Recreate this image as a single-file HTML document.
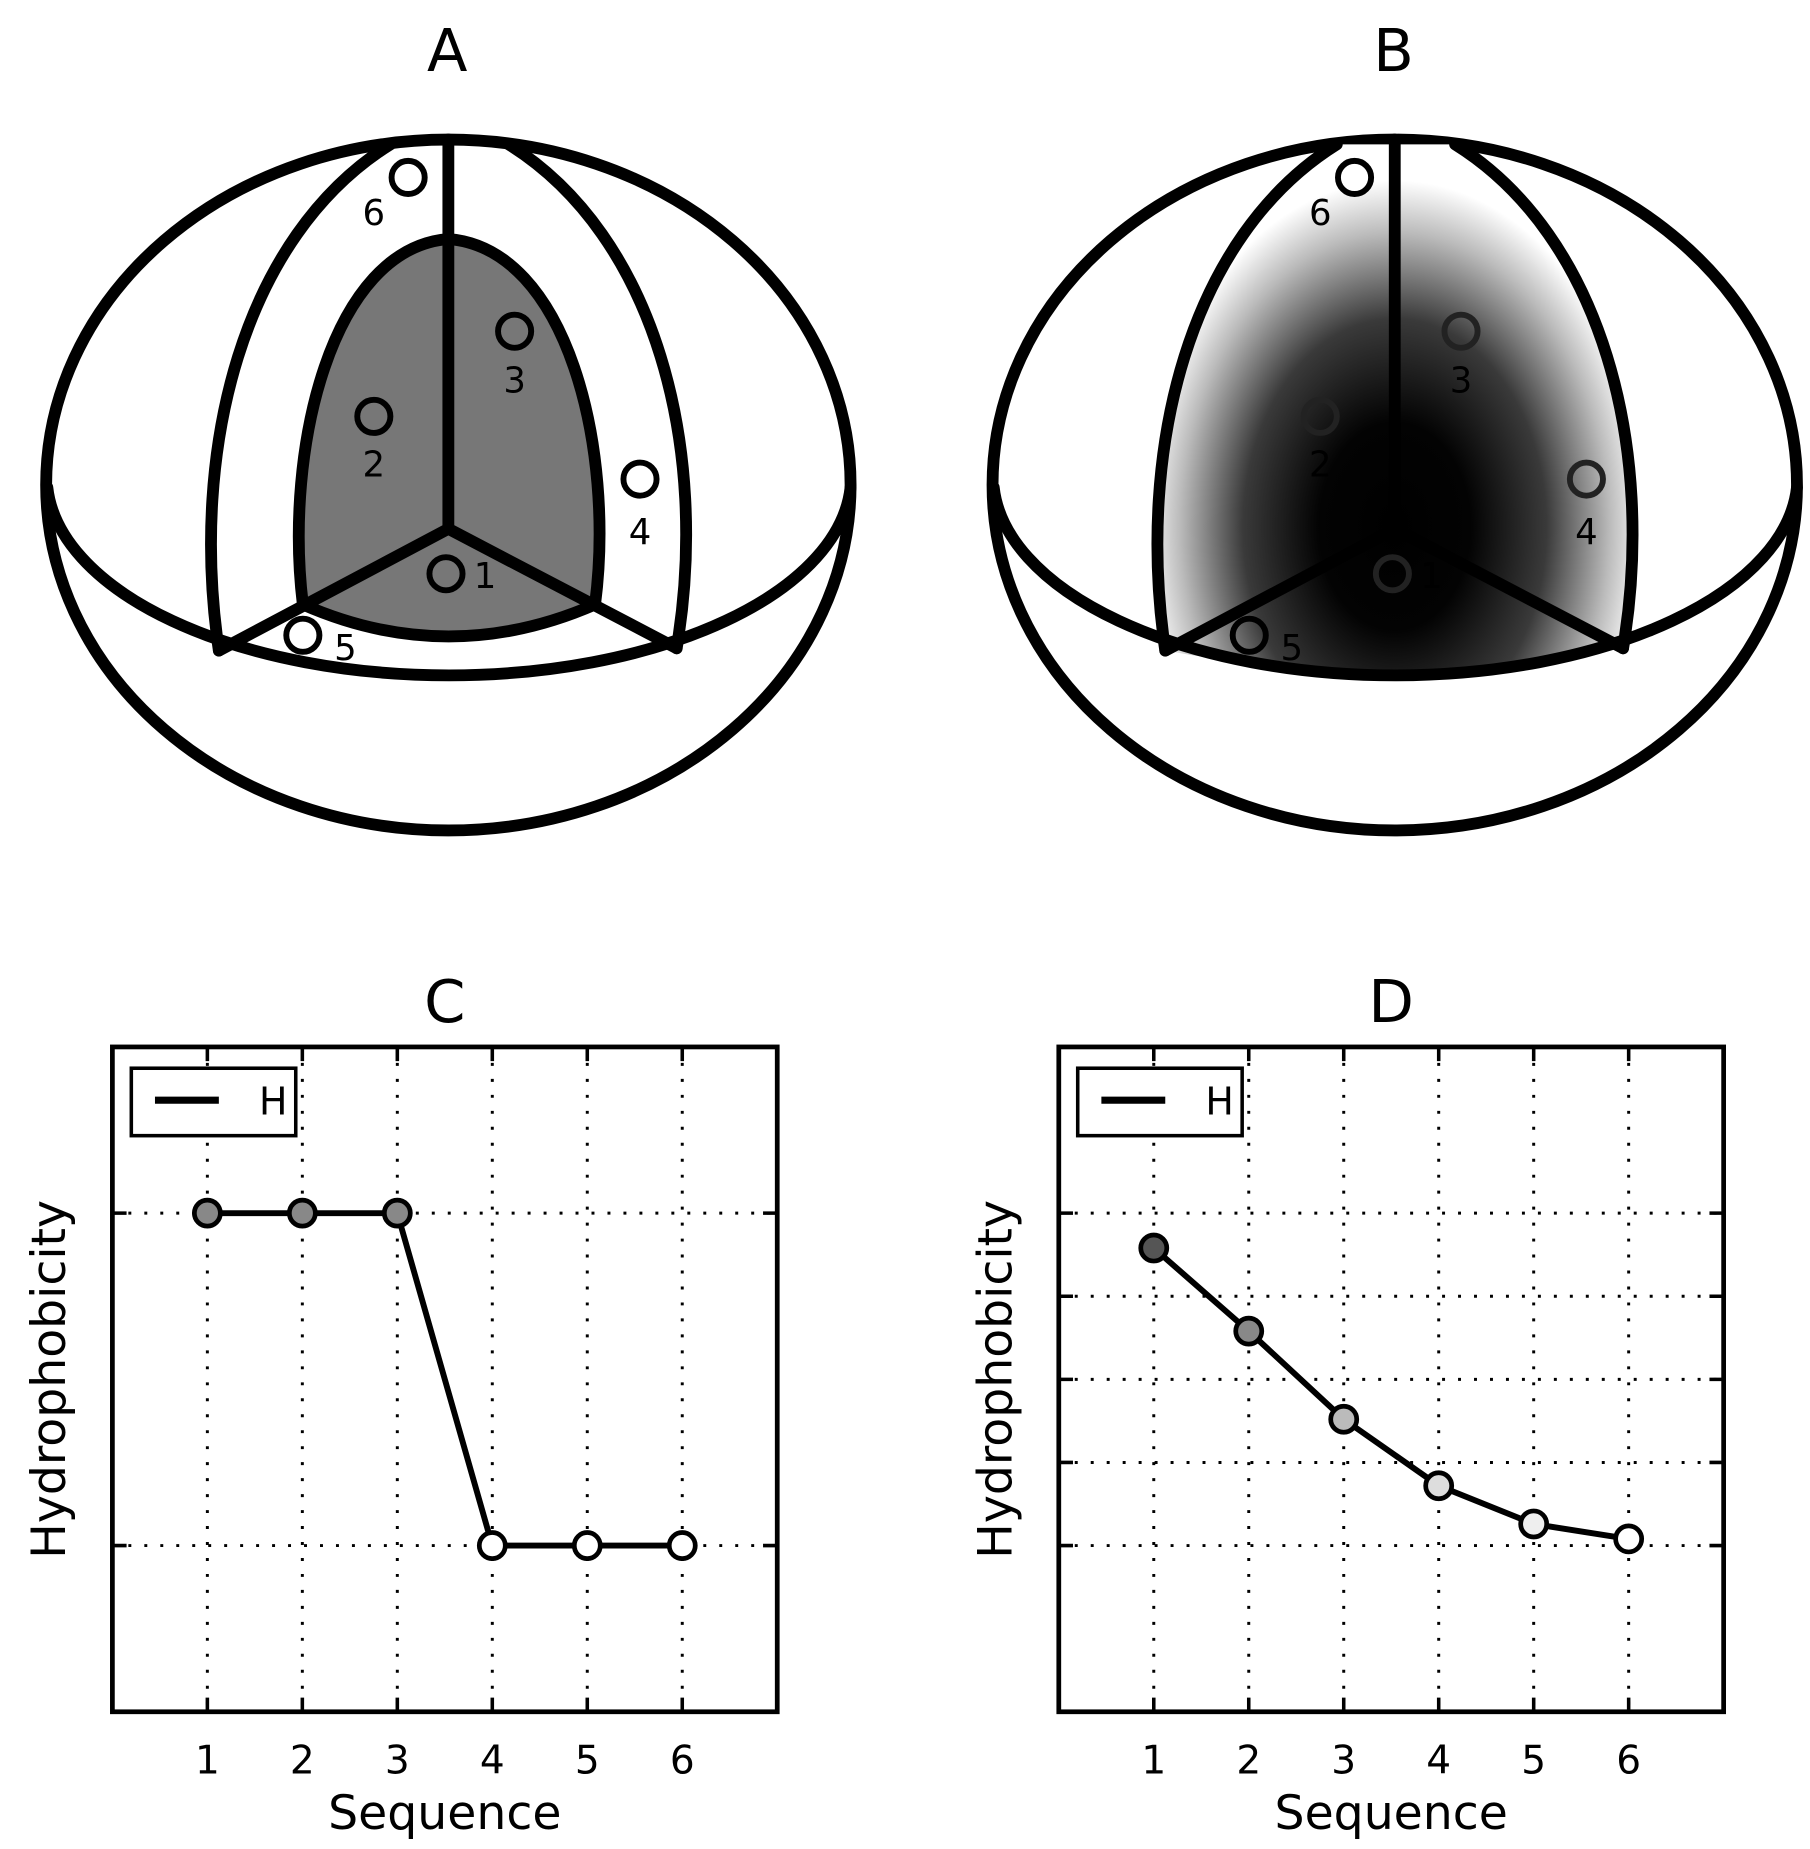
<!DOCTYPE html>
<html><head><meta charset="utf-8"><style>
html,body{margin:0;padding:0;background:#fff}
svg{display:block}
text{font-family:"DejaVu Sans","Liberation Sans",sans-serif;fill:#000}
</style></head><body>
<svg id="fig" width="1810" height="1849" viewBox="0 0 1530 1563" preserveAspectRatio="none" xmlns="http://www.w3.org/2000/svg">
<defs>
<radialGradient id="rg" gradientUnits="userSpaceOnUse" cx="379" cy="445" r="225" gradientTransform="translate(379 445) scale(0.95 1.3) translate(-379 -445)">
<stop offset="0" stop-color="#000"/><stop offset="0.3" stop-color="#030303"/><stop offset="0.6" stop-color="#3a3a3a"/><stop offset="0.85" stop-color="#bbb"/><stop offset="1" stop-color="#fff"/>
</radialGradient>
</defs>
<g id="panelA"></g>
<g id="panelB" transform="translate(800 0)"></g>
<g id="chartC"></g>
<g id="chartD"></g>
</svg>
<script>
// chart data
const categories = [1, 2, 3, 4, 5, 6];
const seriesC = [3, 3, 3, 1, 1, 1];
const seriesD = [2.79, 2.29, 1.76, 1.36, 1.13, 1.04];
const fillsC = ['#888', '#888', '#888', '#fff', '#fff', '#fff'];
const fillsD = ['#555', '#888', '#bbb', '#ddd', '#eee', '#fff'];
const yTicksC = [1, 3];
const yTicksD = [1, 1.5, 2, 2.5, 3];
const xTickLabels = ['1', '2', '3', '4', '5', '6'];
const atomLabels = ['1', '2', '3', '4', '5', '6'];

const NS = 'http://www.w3.org/2000/svg';
function mk(parent, tag, attrs, text) {
  const e = document.createElementNS(NS, tag);
  for (const k in attrs) e.setAttribute(k, attrs[k]);
  if (text !== undefined) e.textContent = text;
  parent.appendChild(e);
  return e;
}

function diagram(g, shaded, title) {
  const t = mk(g, 'text', {x: 378, y: 60, 'font-size': 50, 'text-anchor': 'middle'}, title);
  
  
  const S = {fill: 'none', stroke: '#000', 'stroke-width': 10, 'stroke-linecap': 'round', 'stroke-linejoin': 'round'};
  const outer = mk(g, 'ellipse', Object.assign({cx: 379, cy: 410, rx: 340, ry: 292}, S));
  
  
  if (shaded) {
    const r = mk(g, 'path', {d: 'M 330 122 C 205 200 160 380 185 550 Q 379 585 572 548 C 600 380 555 200 430 122 Z', fill: 'url(#rg)'});
    
    
  }
  const eq = mk(g, 'path', Object.assign({d: 'M 40 412 A 340 168 0 0 0 719 412'}, S));
  
  
  if (!shaded) {
    const r = mk(g, 'path', {d: 'M 379 202 C 280 210 240 380 256 511 Q 379 565 503 511 C 520 380 480 210 379 202 Z', fill: '#777', stroke: '#000', 'stroke-width': 10});
    
    
  }
  const lm = mk(g, 'path', Object.assign({d: 'M 330 122 C 205 200 160 380 185 550'}, S));
  
  
  const rm = mk(g, 'path', Object.assign({d: 'M 430 122 C 555 200 600 380 572 548'}, S));
  
  
  const sp = mk(g, 'path', Object.assign({d: 'M 379 118 L 379 447 L 185 550 M 379 447 L 572 548'}, S));
  
  
  const pos = [[377,485],[316,352],[435,280],[541,405],[256,537],[345,150]];
  const lab = [[410,497],[316,403],[435,332],[541,460],[292,558],[316,190]];
  const fills = shaded ? ['none','none','none','none','none','#fff'] : ['none','none','none','#fff','#fff','#fff'];
  const strokes = shaded ? ['#222','#222','#222','#222','#000','#000'] : ['#000','#000','#000','#000','#000','#000'];
  const lfill = shaded ? ['#222','#222','#222','#222','#000','#000'] : ['#000','#000','#000','#000','#000','#000'];
  for (let i = 0; i < 6; i++) {
    const c = mk(g, 'circle', {cx: pos[i][0], cy: pos[i][1], r: 14, fill: fills[i], stroke: strokes[i], 'stroke-width': 5});
    
    
    const l = mk(g, 'text', {x: lab[i][0], y: lab[i][1], 'font-size': 30, 'text-anchor': 'middle', fill: lfill[i]}, atomLabels[i]);
    
    
  }
}
diagram(document.getElementById('panelA'), false, 'A');
diagram(document.getElementById('panelB'), true, 'B');

function chart(g, x0, title, vals, fills, yTicks) {
  const L = x0, R = x0 + 562, T = 885, B = 1447;
  const xs = v => L + (v / 7) * 562;
  const ys = v => B - (v / 4) * 562;
  const t = mk(g, 'text', {x: (L + R) / 2, y: 864, 'font-size': 50, 'text-anchor': 'middle'}, title);
  
  
  const grid = {stroke: '#000', 'stroke-width': 2.5, 'stroke-dasharray': '2.5 11'};
  categories.forEach((c, i) => {
    const gl = mk(g, 'line', Object.assign({x1: xs(c), x2: xs(c), y1: T, y2: B}, grid));
    
    
    const tk = mk(g, 'path', {d: `M ${xs(c)} ${T} v 12 M ${xs(c)} ${B} v -12`, stroke: '#000', 'stroke-width': 3});
    
    
    const tl = mk(g, 'text', {x: xs(c), y: 1499, 'font-size': 33, 'text-anchor': 'middle'}, xTickLabels[i]);
    
    
  });
  yTicks.forEach(v => {
    const gl = mk(g, 'line', Object.assign({x1: L, x2: R, y1: ys(v), y2: ys(v)}, grid));
    
    
    const tk = mk(g, 'path', {d: `M ${L} ${ys(v)} h 12 M ${R} ${ys(v)} h -12`, stroke: '#000', 'stroke-width': 3});
    
    
  });
  const fr = mk(g, 'rect', {x: L, y: T, width: 562, height: 562, fill: 'none', stroke: '#000', 'stroke-width': 4});
  
  
  const d = vals.map((v, i) => (i ? 'L' : 'M') + xs(categories[i]) + ' ' + ys(v)).join(' ');
  const ln = mk(g, 'path', {d: d, fill: 'none', stroke: '#000', 'stroke-width': 5});
  
  
  vals.forEach((v, i) => {
    const m = mk(g, 'circle', {cx: xs(categories[i]), cy: ys(v), r: 11, fill: fills[i], stroke: '#000', 'stroke-width': 4});
    
    
  });
  const lg = mk(g, 'g', {});
  
  
  mk(lg, 'rect', {x: L + 16, y: 903, width: 139, height: 57, fill: '#fff', stroke: '#000', 'stroke-width': 3});
  const le = mk(lg, 'line', {x1: L + 36, x2: L + 90, y1: 930, y2: 930, stroke: '#000', 'stroke-width': 6});
  
  
  mk(lg, 'text', {x: L + 136, y: 942, 'font-size': 32, 'text-anchor': 'middle'}, 'H');
  const xl = mk(g, 'text', {x: (L + R) / 2, y: 1546, 'font-size': 40, 'text-anchor': 'middle'}, 'Sequence');
  
  
  const yl = mk(g, 'text', {x: 0, y: 0, 'font-size': 40, 'text-anchor': 'middle', transform: `translate(${L - 40} 1166) rotate(-90)`}, 'Hydrophobicity');
  
  
}
chart(document.getElementById('chartC'), 95, 'C', seriesC, fillsC, yTicksC);
chart(document.getElementById('chartD'), 895, 'D', seriesD, fillsD, yTicksD);
</script>
</body></html>
